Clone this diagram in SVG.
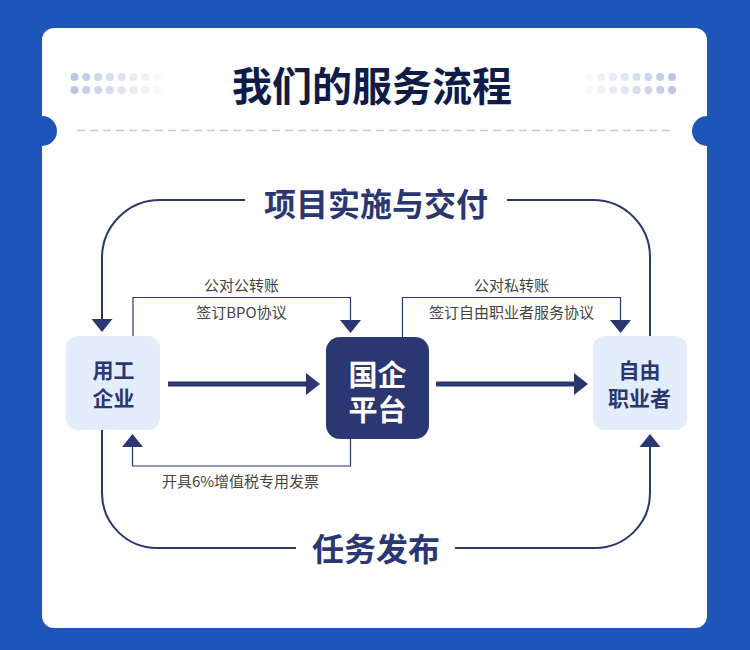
<svg xmlns="http://www.w3.org/2000/svg" width="750" height="650" viewBox="0 0 750 650">
<style>
.title{font-family:"Noto Sans CJK SC","Noto Sans",sans-serif;font-weight:700;font-size:40px;fill:#0f1c48;}
.sec{font-family:"Noto Sans CJK SC","Noto Sans",sans-serif;font-weight:700;font-size:32px;fill:#2b3770;}
.lbl{font-family:"Noto Sans CJK SC","Noto Sans",sans-serif;font-size:15px;fill:#444444;}
.nt{font-family:"Noto Sans CJK SC","Noto Sans",sans-serif;font-weight:700;font-size:21px;fill:#2b3770;}
.nw{font-family:"Noto Sans CJK SC","Noto Sans",sans-serif;font-weight:700;font-size:29px;fill:#ffffff;}
.loop{fill:none;stroke:#2b3770;stroke-width:2;}
.thin{fill:none;stroke:#2b3770;stroke-width:1.2;}
.thick{fill:none;stroke:#2b3770;stroke-width:5;}
.ah{fill:#2b3770;}
.light{fill:#e3edfb;}
</style>
<rect x="0" y="0" width="750" height="650" fill="#1e55b8"/>
<rect x="42" y="28" width="665" height="600" rx="12" fill="#ffffff"/>
<circle cx="42" cy="131" r="15" fill="#1e55b8"/>
<circle cx="707" cy="131" r="15" fill="#1e55b8"/>
<g id="dots-left">
<circle cx="74.5" cy="77" r="4" fill="#bac8e7"/><circle cx="86.3" cy="77" r="4" fill="#c3cfea"/><circle cx="98.1" cy="77" r="4" fill="#ccd6ee"/><circle cx="109.9" cy="77" r="4" fill="#d5ddf1"/><circle cx="121.7" cy="77" r="4" fill="#dee5f4"/><circle cx="133.5" cy="77" r="4" fill="#e7ecf7"/><circle cx="145.3" cy="77" r="4" fill="#eff2fa"/><circle cx="157.1" cy="77" r="4" fill="#f7f9fd"/>
<circle cx="74.5" cy="90" r="4" fill="#bac8e7"/><circle cx="86.3" cy="90" r="4" fill="#c3cfea"/><circle cx="98.1" cy="90" r="4" fill="#ccd6ee"/><circle cx="109.9" cy="90" r="4" fill="#d5ddf1"/><circle cx="121.7" cy="90" r="4" fill="#dee5f4"/><circle cx="133.5" cy="90" r="4" fill="#e7ecf7"/><circle cx="145.3" cy="90" r="4" fill="#eff2fa"/><circle cx="157.1" cy="90" r="4" fill="#f7f9fd"/>
</g>
<g id="dots-right">
<circle cx="672" cy="77" r="4" fill="#bac8e7"/><circle cx="660.2" cy="77" r="4" fill="#c3cfea"/><circle cx="648.4" cy="77" r="4" fill="#ccd6ee"/><circle cx="636.6" cy="77" r="4" fill="#d5ddf1"/><circle cx="624.8" cy="77" r="4" fill="#dee5f4"/><circle cx="613" cy="77" r="4" fill="#e7ecf7"/><circle cx="601.2" cy="77" r="4" fill="#eff2fa"/><circle cx="589.4" cy="77" r="4" fill="#f7f9fd"/>
<circle cx="672" cy="90" r="4" fill="#bac8e7"/><circle cx="660.2" cy="90" r="4" fill="#c3cfea"/><circle cx="648.4" cy="90" r="4" fill="#ccd6ee"/><circle cx="636.6" cy="90" r="4" fill="#d5ddf1"/><circle cx="624.8" cy="90" r="4" fill="#dee5f4"/><circle cx="613" cy="90" r="4" fill="#e7ecf7"/><circle cx="601.2" cy="90" r="4" fill="#eff2fa"/><circle cx="589.4" cy="90" r="4" fill="#f7f9fd"/>
</g>
<text class="title" x="372" y="84" text-anchor="middle" dominant-baseline="central">我们的服务流程</text>
<line x1="77" y1="130.5" x2="671" y2="130.5" stroke="#cccccc" stroke-width="1.5" stroke-dasharray="8 5"/>

<g id="connectors">
<path class="loop" d="M245 200 H160 A58 58 0 0 0 102 258 V320"/>
<polygon class="ah" points="91.5,319 112.5,319 102,332"/>
<path class="loop" d="M507 200 H593 A57 57 0 0 1 650 257 V336"/>
<path class="loop" d="M102 430 V493 A55 55 0 0 0 157 548 H296"/>
<path class="loop" d="M455 548 H595 A55 55 0 0 0 650 493 V446"/>
<polygon class="ah" points="639.5,447 660.5,447 650,434"/>
<path class="thin" d="M133 336 V297.5 H350.5 V321"/>
<polygon class="ah" points="340,320 361,320 350.5,333"/>
<path class="thin" d="M402.5 337 V297.5 H620.5 V321"/>
<polygon class="ah" points="610,320 631,320 620.5,333"/>
<path class="thin" d="M350.5 439 V466 H132.5 V446"/>
<polygon class="ah" points="122,447 143,447 132.5,434"/>
<line class="thick" x1="168" y1="384" x2="307" y2="384"/>
<polygon class="ah" points="306,373 320,384 306,395"/>
<line class="thick" x1="436" y1="384" x2="575" y2="384"/>
<polygon class="ah" points="574,373 588,384 574,395"/>
</g>

<g id="labels">
<text class="sec" x="376" y="202" text-anchor="middle" dominant-baseline="central">项目实施与交付</text>
<text class="sec" x="376" y="547" text-anchor="middle" dominant-baseline="central">任务发布</text>
<text class="lbl" x="241.5" y="284" text-anchor="middle" dominant-baseline="central">公对公转账</text>
<text class="lbl" x="241.5" y="311.5" text-anchor="middle" dominant-baseline="central">签订BPO协议</text>
<text class="lbl" x="511.5" y="284" text-anchor="middle" dominant-baseline="central">公对私转账</text>
<text class="lbl" x="511.5" y="311.5" text-anchor="middle" dominant-baseline="central">签订自由职业者服务协议</text>
<text class="lbl" x="240.5" y="480.5" text-anchor="middle" dominant-baseline="central">开具6%增值税专用发票</text>
</g>

<g id="node-employer">
<rect class="light" x="66" y="336" width="94" height="94" rx="12"/>
<text class="nt" x="113.5" y="369" text-anchor="middle" dominant-baseline="central">用工</text>
<text class="nt" x="113.5" y="396.5" text-anchor="middle" dominant-baseline="central">企业</text>
</g>
<g id="node-platform">
<rect x="326" y="337" width="103" height="102" rx="14" fill="#2b3770"/>
<text class="nw" x="377.5" y="373" text-anchor="middle" dominant-baseline="central">国企</text>
<text class="nw" x="377.5" y="407.5" text-anchor="middle" dominant-baseline="central">平台</text>
</g>
<g id="node-freelancer">
<rect class="light" x="593" y="336" width="94" height="94" rx="12"/>
<text class="nt" x="639.5" y="369" text-anchor="middle" dominant-baseline="central">自由</text>
<text class="nt" x="639.5" y="397" text-anchor="middle" dominant-baseline="central">职业者</text>
</g>
</svg>
